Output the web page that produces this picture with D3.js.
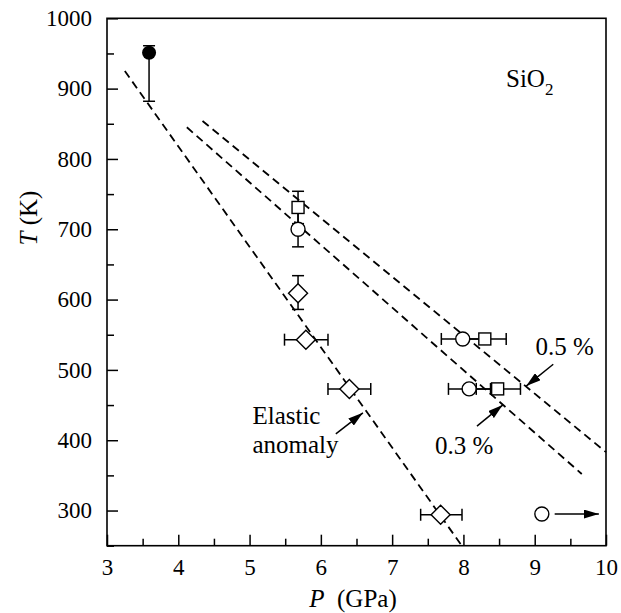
<!DOCTYPE html>
<html>
<head>
<meta charset="utf-8">
<script src="https://cdnjs.cloudflare.com/ajax/libs/d3/7.8.5/d3.min.js"></script>
<style>
  html, body { margin: 0; padding: 0; background: #fff; }
  svg text { font-family: "Liberation Serif", "Times New Roman", serif; fill: #000; }
</style>
</head>
<body>
<svg id="chart" width="621" height="613"></svg>
<script>
// ---- data ----
const xTicks = [3, 4, 5, 6, 7, 8, 9, 10];
const yTicks = [300, 400, 500, 600, 700, 800, 900, 1000];
const xMinor = [3.5, 4.5, 5.5, 6.5, 7.5, 8.5, 9.5];
const yMinor = [250, 350, 450, 550, 650, 750, 850, 950];

// filled circle (P, T, lower T, upper T)
const filledCircles = [{P: 3.59, T: 951, lo: 882, hi: 961}];
// open circles: P, T, vertical error (lo/hi T) or horizontal error (lo/hi P)
const openCircles = [
  {P: 5.68, T: 700, tLo: 675, tHi: 725},
  {P: 7.99, T: 544, pLo: 7.69, pHi: 8.29},
  {P: 8.08, T: 473, pLo: 7.79, pHi: 8.38},
  {P: 9.10, T: 295}
];
const squares = [
  {P: 5.68, T: 731, tLo: 708, tHi: 754},
  {P: 8.30, T: 544, pLo: 8.00, pHi: 8.60},
  {P: 8.48, T: 473, pLo: 8.18, pHi: 8.80}
];
const diamonds = [
  {P: 5.68, T: 609, tLo: 586, tHi: 634},
  {P: 5.79, T: 543, pLo: 5.49, pHi: 6.10},
  {P: 6.40, T: 473, pLo: 6.10, pHi: 6.70},
  {P: 7.68, T: 294, pLo: 7.40, pHi: 7.98}
];
// dashed lines (endpoints)
const lineElastic = [{P: 3.25, T: 925}, {P: 7.97, T: 251}];
const line03 = [{P: 4.12, T: 845}, {P: 9.66, T: 352}];
const line05 = [{P: 4.34, T: 854}, {P: 10.0, T: 383}];
// annotation arrows: from -> to (data coords)
const arrows = [
  {from: {P: 9.28, T: 295}, to: {P: 9.90, T: 295}},
  {from: {P: 9.26, T: 508}, to: {P: 8.88, T: 477}},   // 0.5 %
  {from: {P: 8.19, T: 420}, to: {P: 8.55, T: 450}},   // 0.3 %
  {from: {P: 6.21, T: 409}, to: {P: 6.59, T: 439}}    // elastic anomaly
];
const labels = [
  {text: "0.5 %", P: 9.01, T: 521},
  {text: "0.3 %", P: 7.60, T: 380},
  {text: "Elastic", P: 5.04, T: 423},
  {text: "anomaly", P: 5.04, T: 382}
];

// ---- layout ----
const svg = d3.select("#chart");
const mLeft = 107, mRight = 606, mTop = 18.3, mBottom = 545.7;
const x = d3.scaleLinear().domain([3, 10]).range([mLeft, mRight]);
const y = d3.scaleLinear().domain([250, 1000]).range([mBottom, mTop]);
const FS = 23;   // tick labels
const FA = 25;   // annotations / titles

// defs: arrowhead
svg.append("defs").append("marker")
  .attr("id", "ah").attr("viewBox", "0 0 15 9")
  .attr("refX", 15).attr("refY", 4.5)
  .attr("markerWidth", 15).attr("markerHeight", 9)
  .attr("markerUnits", "userSpaceOnUse")
  .attr("orient", "auto")
  .append("path").attr("d", "M0,0 L15,4.5 L0,9 Z").attr("fill", "#000");

// axes
const xAxis = d3.axisBottom(x).tickValues(xTicks).tickSizeInner(-11).tickSizeOuter(0).tickPadding(13).tickFormat(d3.format("d"));
const gx = svg.append("g").attr("transform", `translate(0,${mBottom})`).call(xAxis);
const gxm = svg.append("g").attr("transform", `translate(0,${mBottom})`)
  .call(d3.axisBottom(x).tickValues(xMinor).tickSizeInner(-7).tickSizeOuter(0).tickFormat(""));
const yAxis = d3.axisLeft(y).tickValues(yTicks).tickSizeInner(-11).tickSizeOuter(0).tickPadding(15).tickFormat(d3.format("d"));
const gy = svg.append("g").attr("transform", `translate(${mLeft},0)`).call(yAxis);
const gym = svg.append("g").attr("transform", `translate(${mLeft},0)`)
  .call(d3.axisLeft(y).tickValues(yMinor).tickSizeInner(-7).tickSizeOuter(0).tickFormat(""));
[gx, gxm, gy, gym].forEach(g => {
  g.attr("font-family", null);
  g.select(".domain").remove();
  g.selectAll(".tick line").attr("stroke", "#000").attr("stroke-width", 1.5);
  g.selectAll(".tick text").style("font-size", FS + "px").style("font-family", '"Liberation Serif", serif').attr("fill", "#000");
});

// frame
svg.append("rect").attr("x", mLeft).attr("y", mTop).attr("width", mRight - mLeft).attr("height", mBottom - mTop)
  .attr("fill", "none").attr("stroke", "#000").attr("stroke-width", 1.6);

// axis titles
const xt = svg.append("text").attr("x", 353).attr("y", 607).attr("text-anchor", "middle").style("font-size", FA + "px");
xt.append("tspan").attr("font-style", "italic").text("P");
xt.append("tspan").text("\u00a0\u00a0(GPa)");
const yt = svg.append("text").attr("transform", "translate(37,218) rotate(-90)").attr("text-anchor", "middle").style("font-size", FA + "px");
yt.append("tspan").attr("font-style", "italic").text("T");
yt.append("tspan").text(" (K)");

// SiO2
const st = svg.append("text").attr("x", 506).attr("y", 87).style("font-size", FA + "px");
st.append("tspan").text("SiO");
st.append("tspan").attr("dy", 8).style("font-size", "17px").text("2");

// dashed lines
const line = d3.line().x(d => x(d.P)).y(d => y(d.T));
[lineElastic, line03, line05].forEach(L => {
  svg.append("path").attr("d", line(L)).attr("fill", "none").attr("stroke", "#000")
    .attr("stroke-width", 1.8).attr("stroke-dasharray", "8,5");
});

// error bars
const gE = svg.append("g").attr("stroke", "#000").attr("stroke-width", 1.5);
function errBars(arr) {
  arr.forEach(d => {
    if (d.tLo !== undefined) {
      gE.append("line").attr("x1", x(d.P)).attr("x2", x(d.P)).attr("y1", y(d.tLo)).attr("y2", y(d.tHi));
      [d.tLo, d.tHi].forEach(t => gE.append("line").attr("x1", x(d.P) - 6).attr("x2", x(d.P) + 6).attr("y1", y(t)).attr("y2", y(t)));
    }
    if (d.pLo !== undefined) {
      gE.append("line").attr("x1", x(d.pLo)).attr("x2", x(d.pHi)).attr("y1", y(d.T)).attr("y2", y(d.T));
      [d.pLo, d.pHi].forEach(p => gE.append("line").attr("x1", x(p)).attr("x2", x(p)).attr("y1", y(d.T) - 6).attr("y2", y(d.T) + 6));
    }
  });
}
errBars(openCircles); errBars(squares); errBars(diamonds);
filledCircles.forEach(d => {
  gE.append("line").attr("x1", x(d.P)).attr("x2", x(d.P)).attr("y1", y(d.lo)).attr("y2", y(d.hi));
  [d.lo, d.hi].forEach(t => gE.append("line").attr("x1", x(d.P) - 6).attr("x2", x(d.P) + 6).attr("y1", y(t)).attr("y2", y(t)));
});

// markers
svg.selectAll(".fc").data(filledCircles).enter().append("circle")
  .attr("cx", d => x(d.P)).attr("cy", d => y(d.T)).attr("r", 7).attr("fill", "#000");
svg.selectAll(".oc").data(openCircles).enter().append("circle")
  .attr("cx", d => x(d.P)).attr("cy", d => y(d.T)).attr("r", 7)
  .attr("fill", "#fff").attr("stroke", "#000").attr("stroke-width", 1.4);
svg.selectAll(".sq").data(squares).enter().append("rect")
  .attr("x", d => x(d.P) - 6).attr("y", d => y(d.T) - 6).attr("width", 12).attr("height", 12)
  .attr("fill", "#fff").attr("stroke", "#000").attr("stroke-width", 1.4);
svg.selectAll(".dm").data(diamonds).enter().append("path")
  .attr("d", d => { const cx = x(d.P), cy = y(d.T), r = 9.5; return `M${cx},${cy - r}L${cx + r},${cy}L${cx},${cy + r}L${cx - r},${cy}Z`; })
  .attr("fill", "#fff").attr("stroke", "#000").attr("stroke-width", 1.4);

// arrows
arrows.forEach(a => {
  svg.append("line").attr("x1", x(a.from.P)).attr("y1", y(a.from.T)).attr("x2", x(a.to.P)).attr("y2", y(a.to.T))
    .attr("stroke", "#000").attr("stroke-width", 1.5).attr("marker-end", "url(#ah)");
});

// labels
labels.forEach(l => {
  svg.append("text").attr("x", x(l.P)).attr("y", y(l.T)).style("font-size", FA + "px").text(l.text);
});
</script>
</body>
</html>
